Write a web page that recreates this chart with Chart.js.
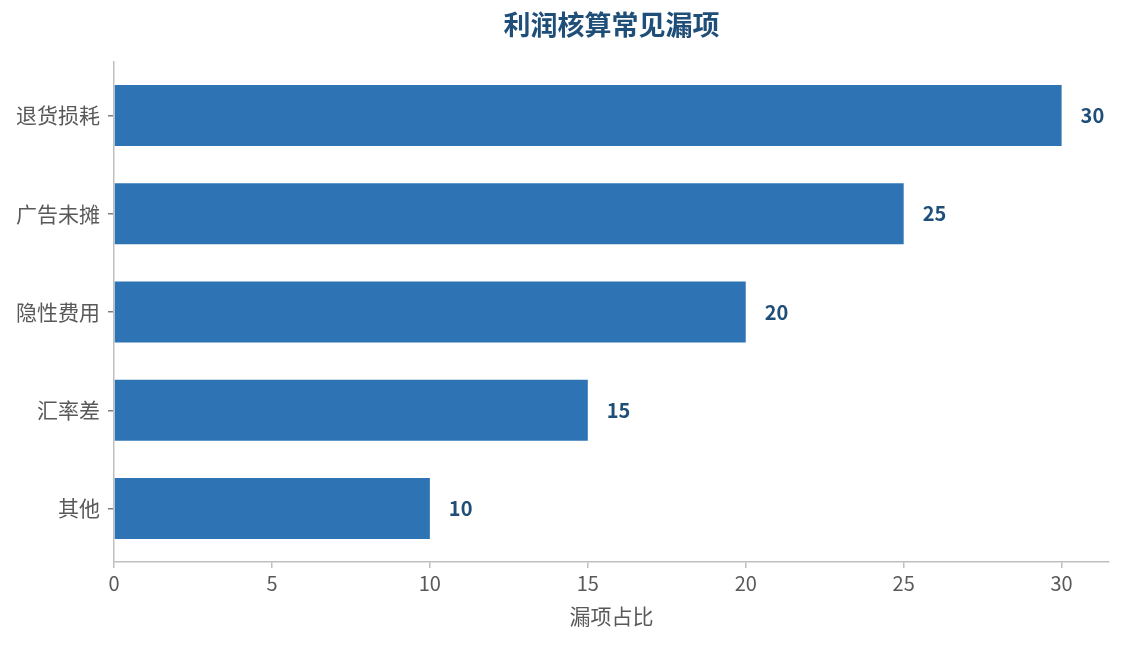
<!DOCTYPE html>
<html>
<head>
<meta charset="utf-8">
<script src="https://cdn.jsdelivr.net/npm/chart.js@4/dist/chart.umd.min.js"></script>
<style>
html,body{margin:0;padding:0;background:#fff;}
</style>
</head>
<body>
<canvas id="c" width="1124" height="645"></canvas>
<script>
const categories = ["退货损耗", "广告未摊", "隐性费用", "汇率差", "其他"];
const values = [30, 25, 20, 15, 10];
const xTicks = [0, 5, 10, 15, 20, 25, 30];
const titleText = "利润核算常见漏项";
const xTitle = "漏项占比";

const FONT = "'Noto Sans CJK SC', 'Noto Sans', sans-serif";

const labelPlugin = {
  id: 'barLabels',
  afterDatasetsDraw(chart) {
    const ctx = chart.ctx;
    const meta = chart.getDatasetMeta(0);
    ctx.save();
    ctx.font = "bold 20px " + FONT;
    ctx.fillStyle = "#1F4E79";
    ctx.textAlign = "left";
    ctx.textBaseline = "middle";
    meta.data.forEach((el, i) => {
      ctx.fillText(String(values[i]), el.x + 19, el.y);
    });
    ctx.restore();
  }
};

new Chart(document.getElementById('c'), {
  type: 'bar',
  data: {
    labels: categories,
    datasets: [{
      data: values,
      backgroundColor: '#2E74B5',
      borderWidth: 0,
      barPercentage: 0.62,
      categoryPercentage: 1.0
    }]
  },
  plugins: [labelPlugin],
  options: {
    indexAxis: 'y',
    responsive: false,
    animation: false,
    devicePixelRatio: 1,
    layout: { padding: { left: 0, right: 15, top: 0, bottom: 0 } },
    plugins: {
      legend: { display: false },
      tooltip: { enabled: false },
      title: {
        display: true,
        fullSize: false,
        text: titleText,
        color: '#1F4E79',
        font: { family: FONT, size: 27, weight: 'bold' },
        padding: { top: 9, bottom: 20.6 }
      }
    },
    scales: {
      x: {
        type: 'linear',
        min: 0,
        max: 31.5,
        afterBuildTicks: (scale) => { scale.ticks = xTicks.map(v => ({ value: v })); },
        afterFit: (scale) => { scale.height = 83; },
        ticks: {
          color: '#595959',
          font: { family: FONT, size: 20 },
          padding: 3
        },
        grid: {
          display: true,
          drawOnChartArea: false,
          drawTicks: true,
          tickLength: 6,
          color: '#BFBFBF',
          lineWidth: 1.5
        },
        border: { display: true, color: '#BFBFBF', width: 1.5 },
        title: {
          display: true,
          text: xTitle,
          color: '#595959',
          font: { family: FONT, size: 21 },
          padding: { top: 4, bottom: 16 }
        }
      },
      y: {
        type: 'category',
        afterBuildTicks: (scale) => { scale._valueRange = 5.089; scale._startValue = -0.5446; },
        afterFit: (scale) => { scale.width = 114; },
        ticks: {
          color: '#595959',
          font: { family: FONT, size: 21 },
          padding: 8
        },
        grid: {
          display: true,
          drawOnChartArea: false,
          drawTicks: true,
          tickLength: 6,
          color: '#7F7F7F',
          lineWidth: 1.5,
          offset: false
        },
        border: { display: true, color: '#BFBFBF', width: 1.5 }
      }
    }
  }
});
</script>
</body>
</html>
